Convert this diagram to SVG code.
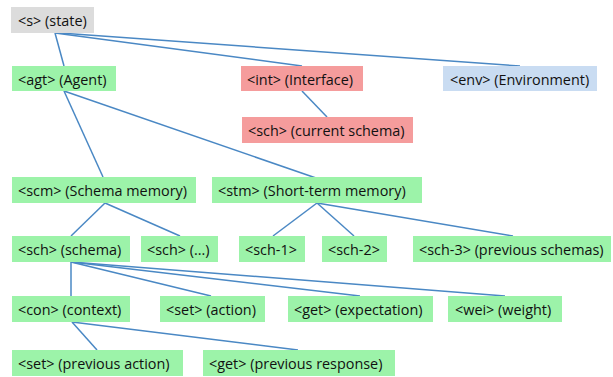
<svg xmlns="http://www.w3.org/2000/svg" width="613" height="377" viewBox="0 0 613 377">
<style>
.g{fill:#9cf3a9}.r{fill:#f59c9c}.b{fill:#c9dcf2}.y{fill:#dcdcdc}
text{font-family:"Open Sans","DejaVu Sans",sans-serif;font-size:14.4px;fill:#111}
#edges line{stroke:#4a88c4;stroke-width:1.5}
</style>
<rect width="613" height="377" fill="#fff"/>
<g id="edges">
<line x1="55" y1="33" x2="64" y2="66"/>
<line x1="55" y1="33" x2="302" y2="66"/>
<line x1="60" y1="33" x2="520" y2="66"/>
<line x1="302" y1="91" x2="327" y2="117"/>
<line x1="64" y1="91" x2="103" y2="177"/>
<line x1="64" y1="91" x2="316" y2="178"/>
<line x1="105" y1="203" x2="71" y2="236"/>
<line x1="105" y1="203" x2="180" y2="236"/>
<line x1="317" y1="203" x2="273" y2="236"/>
<line x1="317" y1="203" x2="354" y2="236"/>
<line x1="317" y1="203" x2="513" y2="236"/>
<line x1="71" y1="262" x2="71" y2="296"/>
<line x1="71" y1="262" x2="211" y2="296"/>
<line x1="71" y1="262" x2="360" y2="296"/>
<line x1="71" y1="262" x2="505" y2="296"/>
<line x1="72" y1="322" x2="97" y2="350"/>
<line x1="72" y1="322" x2="298" y2="350"/>
</g>
<g id="s"><rect class="y" x="11" y="7" width="83" height="26"/><text x="18" y="26">&lt;s&gt; (state)</text></g>
<g id="agt"><rect class="g" x="12" y="66" width="104" height="25"/><text x="18" y="85">&lt;agt&gt; (Agent)</text></g>
<g id="int"><rect class="r" x="241" y="66" width="122" height="25"/><text x="247" y="85">&lt;int&gt; (Interface)</text></g>
<g id="env"><rect class="b" x="443" y="66" width="154" height="25"/><text x="450" y="85">&lt;env&gt; (Environment)</text></g>
<g id="cursch"><rect class="r" x="242" y="117" width="171" height="26"/><text x="248" y="136">&lt;sch&gt; (current schema)</text></g>
<g id="scm"><rect class="g" x="12" y="177" width="184" height="26"/><text x="18" y="196">&lt;scm&gt; (Schema memory)</text></g>
<g id="stm"><rect class="g" x="212" y="177" width="210" height="26"/><text x="218" y="196">&lt;stm&gt; (Short-term memory)</text></g>
<g id="sch"><rect class="g" x="12" y="236" width="118" height="26"/><text x="18" y="255">&lt;sch&gt; (schema)</text></g>
<g id="schx"><rect class="g" x="141" y="236" width="77" height="26"/><text x="147" y="255">&lt;sch&gt; (...)</text></g>
<g id="sch1"><rect class="g" x="239" y="236" width="66" height="26"/><text x="245" y="255">&lt;sch-1&gt;</text></g>
<g id="sch2"><rect class="g" x="322" y="236" width="65" height="26"/><text x="328" y="255">&lt;sch-2&gt;</text></g>
<g id="sch3"><rect class="g" x="413" y="236" width="198" height="26"/><text x="419" y="255">&lt;sch-3&gt; (previous schemas)</text></g>
<g id="con"><rect class="g" x="12" y="296" width="118" height="26"/><text x="18" y="315">&lt;con&gt; (context)</text></g>
<g id="set"><rect class="g" x="160" y="296" width="105" height="26"/><text x="166" y="315">&lt;set&gt; (action)</text></g>
<g id="get"><rect class="g" x="288" y="296" width="145" height="26"/><text x="294" y="315">&lt;get&gt; (expectation)</text></g>
<g id="wei"><rect class="g" x="448" y="296" width="114" height="26"/><text x="455" y="315">&lt;wei&gt; (weight)</text></g>
<g id="setp"><rect class="g" x="12" y="350" width="171" height="26"/><text x="18" y="369">&lt;set&gt; (previous action)</text></g>
<g id="getp"><rect class="g" x="203" y="350" width="192" height="26"/><text x="209" y="369">&lt;get&gt; (previous response)</text></g>
</svg>
